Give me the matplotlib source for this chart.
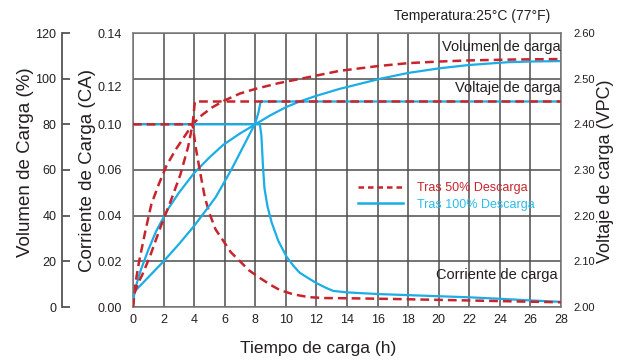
import matplotlib
matplotlib.use("Agg")
import matplotlib.pyplot as plt
from matplotlib.lines import Line2D

plt.rcParams['font.family'] = ['Liberation Sans', 'DejaVu Sans']

RED = '#c8242b'
BLUE = '#1badE6'
GRID = '#4d4d4d'
TXT = '#231f20'

# time axis
hours = list(range(0, 29, 2))

# charge volume (%)
vol50_h = [0, 0.15, 0.4, 0.8, 1.2, 1.7, 2.2, 2.8, 3.4, 3.9, 4.5, 5.2, 6.0, 7.0, 8.0,
           9.5, 11.0, 13.5, 16.0, 18.0, 20.0, 22.0, 25.0, 28.0]
vol50 = [0, 10, 20, 33, 45, 54, 62, 69, 75, 80, 84, 87.5, 90.5, 93.5, 95.5,
         98, 100, 103.4, 105.5, 106.8, 107.5, 108, 108.4, 108.6]
vol100_h = [0, 0.1, 0.5, 1.0, 1.5, 2.3, 3.0, 4.0, 5.0, 5.9, 7.0, 8.0, 9.0, 10.0,
            10.9, 12.0, 13.5, 15.0, 16.2, 18.0, 20.0, 22.0, 24.5, 26.0, 28.0]
vol100 = [3, 7, 16, 25, 33, 43, 50, 58.7, 65.5, 71, 76, 80, 84, 87.5,
          90, 92.5, 95.5, 98, 100, 102.5, 104.5, 106, 107.2, 107.5, 107.7]

# charge voltage (V per cell)
volt50_h = [0, 0.1, 0.3, 0.6, 1.1, 1.8, 2.5, 3.1, 3.6, 3.9, 4.05, 28]
volt50 = [2.00, 2.03, 2.05, 2.07, 2.11, 2.175, 2.235, 2.29, 2.35, 2.40, 2.45, 2.45]
volt100_h = [0, 0.13, 1.0, 2.0, 3.0, 4.0, 4.9, 5.4, 6.0, 6.5, 7.0, 7.5, 8.0, 8.2, 8.35, 28]
volt100 = [2.015, 2.035, 2.065, 2.10, 2.1375, 2.1775, 2.2175, 2.24, 2.275, 2.305,
           2.3375, 2.37, 2.4025, 2.425, 2.45, 2.45]

# charge current (CA)
cur50_h = [0, 3.9, 4.1, 4.4, 4.7, 5.0, 5.4, 5.9, 6.4, 7.0, 7.6, 8.3, 9.0, 9.6,
           10.5, 11.5, 12.5, 14, 17, 20, 23, 26, 28]
cur50 = [0.1, 0.1, 0.0875, 0.0734, 0.06, 0.0513, 0.0425, 0.0363, 0.03, 0.025, 0.02,
         0.0159, 0.0121, 0.0093, 0.0069, 0.0054, 0.0049, 0.0048, 0.0044, 0.0039,
         0.0034, 0.0029, 0.0026]
cur100_h = [0, 8.3, 8.4, 8.5, 8.6, 8.8, 9.07, 9.5, 10.05, 10.5, 10.9, 11.5, 12.0,
            12.6, 13.1, 14, 16, 18, 20, 22, 24, 26, 28]
cur100 = [0.1, 0.1, 0.0938, 0.0775, 0.065, 0.055, 0.0463, 0.0363, 0.0275, 0.0225,
          0.0188, 0.0156, 0.0131, 0.0106, 0.0088, 0.008, 0.0071, 0.0065, 0.0059,
          0.0053, 0.0045, 0.0036, 0.0028]

vol_ticks = [0, 20, 40, 60, 80, 100, 120]
cur_tick_pos = [0, 0.025, 0.05, 0.075, 0.1, 0.1206, 0.15]
cur_tick_lab = ['0.00', '0.02', '0.04', '0.06', '0.10', '0.12', '0.14']
volt_ticks = [2.0, 2.1, 2.2, 2.3, 2.4, 2.5, 2.6]

W, H = 624, 362
L, R, B, T = 133, 561, 307, 33
rect = [L / W, 1 - B / H, (R - L) / W, (B - T) / H]

fig = plt.figure(figsize=(W / 100, H / 100), dpi=100)

# main axes: volume scale + grid
ax = fig.add_axes(rect)
ax.set_xlim(0, 28)
ax.set_ylim(0, 120)
ax.set_xticks(hours)
ax.set_yticks(vol_ticks)
ax.grid(True, color=GRID, lw=1.1)
ax.tick_params(axis='y', length=0, labelleft=False)
ax.tick_params(axis='x', length=0, pad=5, labelsize=9, labelcolor=TXT)
for s in ax.spines.values():
    s.set_color('#777777')
    s.set_linewidth(1.1)
ax.plot(vol100_h, vol100, color=BLUE, lw=1.6)
ax.plot(vol50_h, vol50, color=RED, lw=1.8, dashes=(3.5, 2))

# current axes, labels on the left
ax_c = fig.add_axes(rect, sharex=ax)
ax_c.patch.set_visible(False)
for s in ax_c.spines.values():
    s.set_visible(False)
ax_c.set_ylim(0, 0.15)
ax_c.set_yticks(cur_tick_pos)
ax_c.set_yticklabels(cur_tick_lab)
ax_c.tick_params(axis='y', length=0, pad=8, labelsize=9, labelcolor=TXT)
ax_c.tick_params(axis='x', length=0, labelbottom=False)
ax_c.plot(cur100_h, cur100, color=BLUE, lw=1.6)
ax_c.plot(cur50_h, cur50, color=RED, lw=1.8, dashes=(3.5, 2))

# voltage axes on the right
ax_v = ax.twinx()
ax_v.set_ylim(2.0, 2.6)
ax_v.set_yticks(volt_ticks)
ax_v.set_yticklabels(['%.2f' % v for v in volt_ticks])
ax_v.tick_params(axis='y', length=0, pad=9, labelsize=8, labelcolor=TXT)
for s in ax_v.spines.values():
    s.set_visible(False)
ax_v.plot(volt100_h, volt100, color=BLUE, lw=1.6)
ax_v.plot(volt50_h, volt50, color=RED, lw=1.8, dashes=(3.5, 2))

# separate volume scale further left
ax_p = fig.add_axes([62 / W, 1 - B / H, 0.0001, (B - T) / H])
ax_p.set_ylim(0, 120)
ax_p.set_yticks(vol_ticks)
ax_p.set_xticks([])
ax_p.patch.set_visible(False)
for k in ['top', 'right', 'bottom']:
    ax_p.spines[k].set_visible(False)
ax_p.spines['left'].set_color('#555555')
ax_p.spines['left'].set_linewidth(1.3)
ax_p.tick_params(axis='y', direction='in', length=6, width=1.3, color='#555555',
                 pad=4, labelsize=9, labelcolor=TXT)

# curve names
ax.text(27.95, 114, 'Volumen de carga', ha='right', va='center', fontsize=10.5, color=TXT)
ax.text(27.95, 96, 'Voltaje de carga', ha='right', va='center', fontsize=10.5, color=TXT)
ax.text(27.8, 14, 'Corriente de carga', ha='right', va='center', fontsize=10.5, color=TXT)

# legend
handles = [Line2D([], [], color=RED, lw=1.8, dashes=(2.2, 1.6)),
           Line2D([], [], color=BLUE, lw=1.8)]
leg = fig.legend(handles, ['Tras 50% Descarga', 'Tras 100% Descarga'],
                 loc='upper left', bbox_to_anchor=(352 / W, 1 - 176 / H),
                 frameon=False, fontsize=9, handlelength=3.6, handletextpad=1.1,
                 borderpad=0, labelspacing=0.35, labelcolor=[RED, '#29bdec'])

# titles and axis names
fig.text(472 / W, 1 - 16 / H, 'Temperatura:25°C (77°F)', ha='center', va='center',
         fontsize=10, color=TXT)
fig.text(25 / W, 1 - 162 / H, 'Volumen de Carga (%)', rotation=90, ha='center',
         va='center', fontsize=13.5, color=TXT)
fig.text(88 / W, 1 - 171 / H, 'Corriente de Carga (CA)', rotation=90, ha='center',
         va='center', fontsize=13.5, color=TXT)
fig.text(606 / W, 1 - 171 / H, 'Voltaje de carga (VPC)', rotation=90, ha='center',
         va='center', fontsize=13, color=TXT)
fig.text(318 / W, 1 - 348 / H, 'Tiempo de carga (h)', ha='center', va='center',
         fontsize=12.5, color=TXT)

fig.savefig('out.png', dpi=100)
